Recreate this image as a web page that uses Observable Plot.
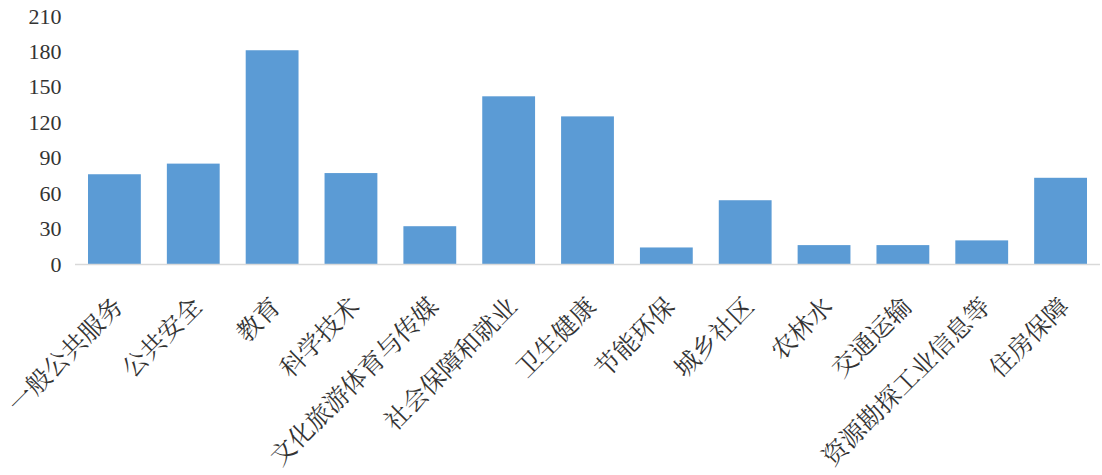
<!DOCTYPE html>
<html>
<head>
<meta charset="utf-8">
<script src="https://cdn.jsdelivr.net/npm/d3@7"></script>
<script src="https://cdn.jsdelivr.net/npm/@observablehq/plot@0.6"></script>
<style>
  html, body { margin: 0; padding: 0; background: #fff; }
  #chart svg { display: block; }
</style>
</head>
<body>
<div id="chart"></div>
<script>
const categories = ["一般公共服务", "公共安全", "教育", "科学技术", "文化旅游体育与传媒", "社会保障和就业", "卫生健康", "节能环保", "城乡社区", "农林水", "交通运输", "资源勘探工业信息等", "住房保障"];
const values = [76, 85, 181, 77, 32, 142, 125, 14, 54, 16, 16, 20, 73];
const yTicks = [0, 30, 60, 90, 120, 150, 180, 210];

const data = categories.map((c, i) => ({category: c, value: values[i]}));

const chart = Plot.plot({
  width: 1102,
  height: 475,
  marginLeft: 75,
  marginRight: 2,
  marginTop: 16,
  marginBottom: 211,
  style: {
    fontFamily: "'Liberation Serif', 'Noto Serif CJK SC', 'Noto Sans CJK SC', serif",
    color: "#333",
    background: "#fff"
  },
  x: {domain: categories, paddingInner: 0.33, paddingOuter: 0.165, round: false, label: null},
  y: {domain: [0, 210], label: null},
  marks: [
    Plot.barY(data, {x: "category", y: "value", fill: "#5B9BD5"}),
    Plot.ruleY([0], {stroke: "#d9d9d9", strokeWidth: 1.5}),
    Plot.axisY({ticks: yTicks, tickSize: 0, tickPadding: 14, fontSize: 22, label: null}),
    Plot.axisX({tickSize: 0, tickPadding: 32, tickRotate: -45, fontSize: 25, dx: 4, dy: 6, label: null})
  ]
});
document.getElementById("chart").appendChild(chart);
</script>
</body>
</html>
